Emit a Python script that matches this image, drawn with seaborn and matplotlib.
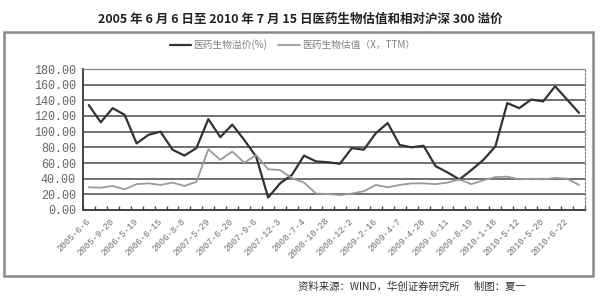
import matplotlib
matplotlib.use("Agg")
import matplotlib.pyplot as plt
import seaborn as sns
import pandas as pd
import numpy as np
from matplotlib.patches import Rectangle
from matplotlib.lines import Line2D
from matplotlib.ticker import FixedLocator

tick_labels = ["2005-6-6", "2005-9-20", "2006-5-19", "2006-6-15", "2006-8-8",
               "2007-5-29", "2007-6-20", "2007-9-6", "2007-12-3", "2008-7-4",
               "2008-10-28", "2008-12-2", "2009-2-16", "2009-4-7", "2009-4-28",
               "2009-6-11", "2009-8-19", "2010-1-18", "2010-5-12", "2010-5-20",
               "2010-6-22"]

premium = [134, 112, 130, 121.5, 85, 96, 100, 77, 69.5, 79,
           116, 93, 109, 89.5, 68, 16, 34, 45, 69.5, 62, 61,
           59, 79, 77, 98, 111, 83, 80, 82, 56, 48,
           39, 51, 64, 81, 136.5, 130, 141, 138.6, 158, 141, 124]

valuation = [29, 28.5, 30.7, 26.4, 33, 34, 32, 35, 30.7, 36,
             77.6, 64, 74.6, 60.5, 70, 52, 51, 40.5, 35, 21, 20.5,
             19, 21, 24, 32, 29, 32, 34, 34, 33, 35,
             39, 33, 38, 42, 42.6, 39, 40, 39, 41, 40, 32]

series_names = ["医药生物溢价(%)", "医药生物估值（X，TTM）"]
title = "2005 年 6 月 6 日至 2010 年 7 月 15 日医药生物估值和相对沪深 300 溢价"
source = "资料来源：WIND，华创证券研究所      制图：夏一"

sns.set_theme(style="white")
plt.rcParams['font.family'] = ['Noto Sans CJK SC', 'DejaVu Sans']

n = len(premium)
df = pd.DataFrame({
    "idx": list(range(n)) * 2,
    "value": premium + valuation,
    "series": [series_names[0]] * n + [series_names[1]] * n,
})

fig = plt.figure(figsize=(6, 3), dpi=100)
fig.patch.set_facecolor("white")
ax = fig.add_axes([0.138, 0.30, 0.837, 0.47])

sns.lineplot(data=df, x="idx", y="value", hue="series",
             palette={series_names[0]: "#333333", series_names[1]: "#9a9a9a"},
             linewidth=1.5, ax=ax, legend=False)
for ln, lw in zip(ax.lines, [1.6, 1.3]):
    ln.set_linewidth(lw)

ax.set_xlim(-0.5, n - 0.5)
ax.set_ylim(0, 180)
ax.set_yticks(np.arange(0, 181, 20))
ax.set_yticklabels([f"{v:.2f}" for v in np.arange(0, 181, 20)],
                   family="Liberation Mono", fontsize=8.5, color="#666666")
ax.yaxis.grid(True, color="#707070", linewidth=1.4)
ax.set_axisbelow(True)
ax.tick_params(axis="y", length=0, pad=5)

ax.set_xticks(list(range(0, n, 2)))
ax.set_xticklabels(tick_labels, rotation=45, ha="right", va="center",
                   rotation_mode="anchor", family="Liberation Mono",
                   fontsize=6.5, color="#707070")
ax.tick_params(axis="x", length=0, pad=7)
ax.xaxis.set_minor_locator(FixedLocator(np.arange(-0.5, n, 1)))
ax.tick_params(axis="x", which="minor", direction="in", length=3,
               width=1, color="#444444", bottom=True)
ax.set_xlabel("")
ax.set_ylabel("")

for s in ["left", "bottom"]:
    ax.spines[s].set_color("#444444")
    ax.spines[s].set_linewidth(1.4)
for s in ["top", "right"]:
    ax.spines[s].set_color("#888888")
    ax.spines[s].set_linewidth(0.9)
    ax.spines[s].set_linestyle((0, (1.5, 1.5)))

handles = [Line2D([0], [0], color="#333333", lw=1.6),
           Line2D([0], [0], color="#9a9a9a", lw=1.3)]
fig.legend(handles, series_names, loc="center", bbox_to_anchor=(0.487, 0.85),
           ncol=2, frameon=False, fontsize=7, handlelength=2.2,
           handletextpad=0.2, columnspacing=1.2, labelcolor="#808080")

fig.text(0.5, 0.935, title, ha="center", va="center", fontsize=9,
         fontweight="bold", color="#222222")

fig.patches.append(Rectangle((0.006, 0.08), 0.982, 0.813, transform=fig.transFigure,
                             fill=False, edgecolor="#8a8a8a", linewidth=1.8))

fig.text(0.497, 0.043, source, ha="left", va="center", fontsize=7.5,
         color="#333333")

fig.savefig("out.png", dpi=100, facecolor="white")
